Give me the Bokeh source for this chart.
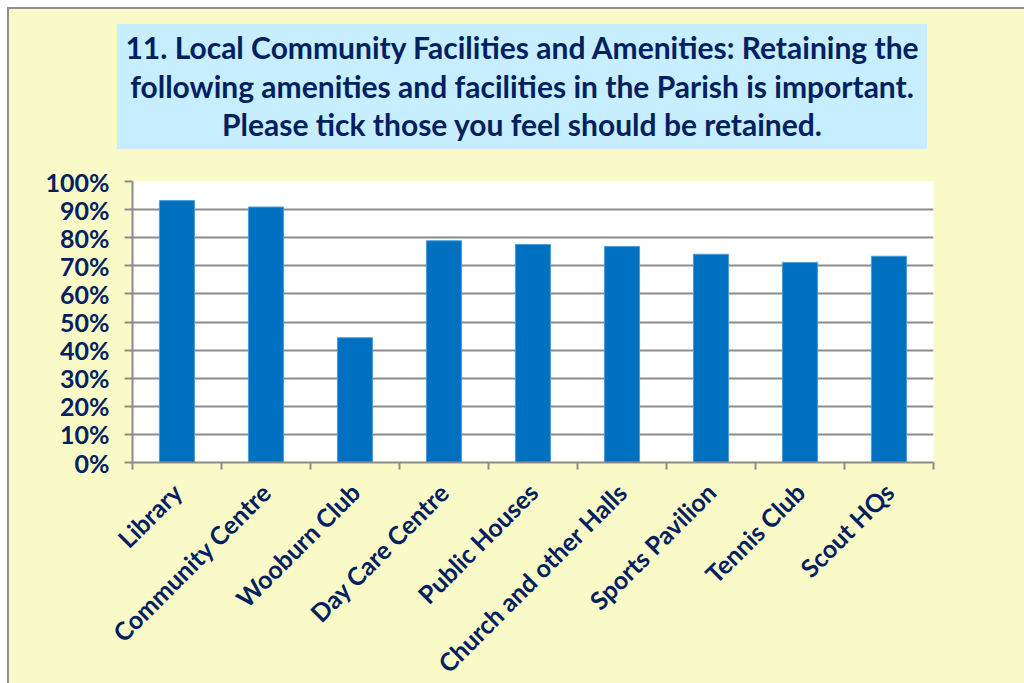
from bokeh.plotting import figure
from bokeh.models import Range1d, FixedTicker, NumeralTickFormatter, Div
from bokeh.layouts import column, row
from bokeh.embed import file_html
from bokeh.resources import INLINE
import math

categories = ["Library", "Community Centre", "Wooburn Club", "Day Care Centre",
              "Public Houses", "Church and other Halls", "Sports Pavilion",
              "Tennis Club", "Scout HQs"]
values = [0.932, 0.909, 0.444, 0.789, 0.776, 0.769, 0.741, 0.712, 0.734]
y_ticks = [0.0, 0.1, 0.2, 0.3, 0.4, 0.5, 0.6, 0.7, 0.8, 0.9, 1.0]
title_lines = ["11. Local Community Facilities and Amenities: Retaining the",
               "following amenities and facilities in the Parish is important.",
               "Please tick those you feel should be retained."]

NAVY = "#002060"
YELLOW = "#FAFAC8"
GRAY = "#8c8c8c"
BORDER = "#8f8f8f"
TITLE_BG = "#C6EEFE"
FONT = "Lato"

PAGE_H = 683
TOP_H = 160
STRIP_W = 9
EXTRA = 12   # room the axis asks for beyond the visible page; clipped by the container

# ---- title strip (HTML) ----
title_html = (
    f'<div style="position:relative;width:1024px;height:{TOP_H}px;background:white;'
    f'overflow:hidden;margin:0;padding:0;">'
    f'<div style="position:absolute;left:7px;top:7px;width:1017px;height:{TOP_H + 20}px;'
    f'background:{YELLOW};border-left:2px solid {BORDER};border-top:2px solid {BORDER};'
    f'box-sizing:border-box;"></div>'
    f'<div style="position:absolute;left:117px;top:24px;width:810px;height:125px;'
    f'background:{TITLE_BG};box-sizing:border-box;padding-top:4px;text-align:center;'
    f'font-family:{FONT};font-weight:bold;font-size:30px;line-height:38.7px;color:{NAVY};'
    f'white-space:nowrap;">'
    + "<br>".join(title_lines) +
    '</div></div>'
)
title_div = Div(text=title_html, width=1024, height=TOP_H,
                styles={"margin": "0", "padding": "0", "background": YELLOW})

FIG_W = 1024 - STRIP_W
FIG_H = PAGE_H - TOP_H + EXTRA

strip_html = (
    f'<div style="position:relative;width:{STRIP_W}px;height:{FIG_H}px;background:white;">'
    f'<div style="position:absolute;left:7px;top:0;width:2px;height:{FIG_H}px;'
    f'background:{BORDER};"></div></div>'
)
strip_div = Div(text=strip_html, width=STRIP_W, height=FIG_H,
                styles={"margin": "0", "padding": "0"})

# ---- chart ----
n = len(categories)
centers = [i + 0.5 for i in range(n)]
bounds = [float(i) for i in range(n + 1)]

p = figure(width=FIG_W, height=FIG_H, output_backend="svg", toolbar_location=None,
           x_range=Range1d(0, n), y_range=Range1d(0, 1),
           min_border_left=132 - STRIP_W, min_border_top=181 - TOP_H,
           min_border_right=FIG_W - (933 - STRIP_W),
           min_border_bottom=FIG_H - (462 - TOP_H))
p.background_fill_color = "white"
p.border_fill_color = YELLOW
p.outline_line_color = None

p.vbar(x=centers, top=values, width=0.395, fill_color="#0070C0",
       line_color="#4C9BD8", line_width=1)

p.xaxis.ticker = FixedTicker(ticks=centers, minor_ticks=bounds)
p.xaxis.major_label_overrides = {c: name for c, name in zip(centers, categories)}
p.xaxis.major_tick_line_color = None
p.xaxis.minor_tick_line_color = GRAY
p.xaxis.minor_tick_line_width = 2
p.xaxis.minor_tick_in = 0
p.xaxis.minor_tick_out = 7
p.xaxis.axis_line_color = GRAY
p.xaxis.axis_line_width = 2
p.xaxis.major_label_orientation = math.pi / 4
p.xaxis.major_label_standoff = 18
p.xaxis.major_label_text_font = FONT
p.xaxis.major_label_text_font_style = "bold"
p.xaxis.major_label_text_font_size = "25px"
p.xaxis.major_label_text_color = NAVY

p.yaxis.ticker = FixedTicker(ticks=y_ticks)
p.yaxis.formatter = NumeralTickFormatter(format="0%")
p.yaxis.minor_tick_line_color = None
p.yaxis.major_tick_line_color = GRAY
p.yaxis.major_tick_line_width = 2
p.yaxis.major_tick_in = 0
p.yaxis.major_tick_out = 8
p.yaxis.axis_line_color = GRAY
p.yaxis.axis_line_width = 2
p.yaxis.major_label_standoff = 15
p.yaxis.major_label_text_font = FONT
p.yaxis.major_label_text_font_style = "bold"
p.yaxis.major_label_text_font_size = "25px"
p.yaxis.major_label_text_color = NAVY

p.xgrid.grid_line_color = None
p.ygrid.ticker = FixedTicker(ticks=y_ticks)
p.ygrid.grid_line_color = GRAY
p.ygrid.grid_line_width = 2

layout = column(title_div, row(strip_div, p, spacing=0), spacing=0,
                width=1024, height=PAGE_H,
                styles={"background": YELLOW, "overflow": "hidden"})

open("out.html", "w").write(file_html(layout, INLINE))
